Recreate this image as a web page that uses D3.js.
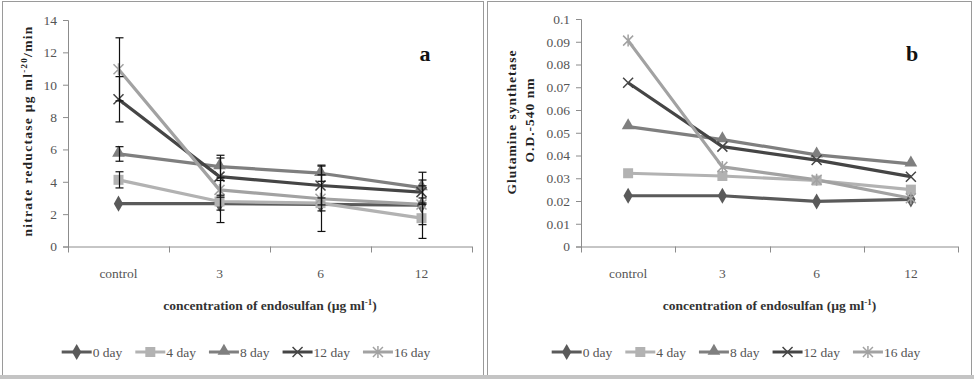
<!DOCTYPE html>
<html>
<head>
<meta charset="utf-8">
<script src="https://cdn.jsdelivr.net/npm/d3@7"></script>
<style>
  html, body { margin: 0; padding: 0; background: #fff; }
  svg { display: block; font-family: "Liberation Serif", "Times New Roman", serif; }
</style>
</head>
<body>
<svg id="chart" width="974" height="379"></svg>
<script>
// categories on the x axis
var categories = ['control', '3', '6', '12'];
var seriesNames = ['0 day', '4 day', '8 day', '12 day', '16 day'];

// panel a: nitrate reductase
var nr0Day  = [2.65, 2.65, 2.6, 2.55];
var nr4Day  = [4.12, 2.78, 2.68, 1.75];
var nr8Day  = [5.72, 4.94, 4.53, 3.64];
var nr12Day = [9.1, 4.32, 3.77, 3.36];
var nr16Day = [10.95, 3.5, 2.95, 2.6];
// +/- error for panel a
var nr0Err  = [0, 0.4, 0.4, 1.2];
var nr4Err  = [0.5, 1.3, 1.75, 1.25];
var nr8Err  = [0.45, 0.7, 0.5, 0.95];
var nr12Err = [1.4, 1.15, 1.2, 0.75];
var nr16Err = [1.95, 0, 0, 0];
var nrTicks = [0, 2, 4, 6, 8, 10, 12, 14];

// panel b: glutamine synthetase
var gs0Day  = [0.0223, 0.0223, 0.0198, 0.0207];
var gs4Day  = [0.0322, 0.031, 0.029, 0.025];
var gs8Day  = [0.0527, 0.047, 0.0403, 0.0363];
var gs12Day = [0.072, 0.0439, 0.038, 0.0307];
var gs16Day = [0.0905, 0.035, 0.0293, 0.0212];
var gsTicks = [0, 0.01, 0.02, 0.03, 0.04, 0.05, 0.06, 0.07, 0.08, 0.09, 0.1];

var colors = ['#5a5a5a', '#b2b2b2', '#7f7f7f', '#454545', '#a2a2a2'];
var markers = ['diamond', 'square', 'triangle', 'x', 'star'];

var svg = d3.select('#chart');

// outer frames
svg.append('rect').attr('x', 2.5).attr('y', 1.5).attr('width', 481).attr('height', 374)
    .attr('fill', 'none').attr('stroke', '#9a9a9a');
svg.append('rect').attr('x', 487.5).attr('y', 1.5).attr('width', 484).attr('height', 374)
    .attr('fill', 'none').attr('stroke', '#9a9a9a');
svg.append('rect').attr('x', 0).attr('y', 375).attr('width', 974).attr('height', 4)
    .attr('fill', '#c4c4c4');

function drawMarker(g, type, color) {
    if (type === 'diamond') {
        g.append('path').attr('d', d3.symbol(d3.symbolDiamond, 75)()).attr('fill', color);
    } else if (type === 'square') {
        g.append('path').attr('d', d3.symbol(d3.symbolSquare, 100)()).attr('fill', color);
    } else if (type === 'triangle') {
        g.append('path').attr('d', d3.symbol(d3.symbolTriangle, 70)()).attr('fill', color)
            .attr('transform', 'translate(0,-1)');
    } else if (type === 'x') {
        g.append('path').attr('d', 'M-5,-5L5,5M-5,5L5,-5')
            .attr('stroke', color).attr('stroke-width', 1.5).attr('fill', 'none');
    } else {
        g.append('path').attr('d', 'M-5,-5L5,5M-5,5L5,-5M0,-6L0,6')
            .attr('stroke', color).attr('stroke-width', 1.5).attr('fill', 'none');
    }
}

function drawPanel(p) {
    var g = svg.append('g');

    var x = d3.scaleBand().domain(categories).range([p.x0, p.x1]);
    var y = d3.scaleLinear().domain([0, p.yMax]).range([p.yBottom, p.yTop]);

    // y axis
    var yAxis = g.append('g')
        .attr('transform', 'translate(' + p.x0 + ',0)')
        .call(d3.axisLeft(y).tickValues(p.ticks).tickSize(5).tickPadding(6).tickFormat(p.fmt));
    yAxis.select('.domain').attr('stroke', '#8c8c8c');
    yAxis.selectAll('.tick line').attr('stroke', '#8c8c8c');
    yAxis.selectAll('.tick text').attr('fill', '#555').style('font-size', '13.5px')
        .style('font-family', '"Liberation Serif", serif');

    // x axis, tick marks between categories
    var xAxis = g.append('g')
        .attr('transform', 'translate(0,' + p.yBottom + ')');
    xAxis.append('line').attr('x1', p.x0).attr('x2', p.x1).attr('y1', 0.5).attr('y2', 0.5)
        .attr('stroke', '#8c8c8c');
    var bounds = categories.map(function (c) { return x(c); }).concat([p.x1]);
    xAxis.selectAll('.bt').data(bounds).enter().append('line')
        .attr('x1', function (d) { return Math.round(d) + 0.5; })
        .attr('x2', function (d) { return Math.round(d) + 0.5; })
        .attr('y1', 0).attr('y2', 6).attr('stroke', '#8c8c8c');
    xAxis.selectAll('.cl').data(categories).enter().append('text')
        .attr('x', function (d) { return x(d) + x.bandwidth() / 2; })
        .attr('y', 31)
        .attr('text-anchor', 'middle').attr('fill', '#555').style('font-size', '13.5px')
        .text(function (d) { return d; });

    // x axis title
    var xt = g.append('text')
        .attr('x', (p.x0 + p.x1) / 2).attr('y', 310)
        .attr('text-anchor', 'middle').attr('fill', '#333')
        .style('font-size', '13.5px').style('font-weight', 'bold');
    xt.append('tspan').text('concentration of endosulfan (\u00b5g ml');
    xt.append('tspan').attr('dy', -5).style('font-size', '9px').text('-1');
    xt.append('tspan').attr('dy', 5).text(')');

    // y axis title
    p.yTitle(g);

    // panel letter
    g.append('text').attr('x', p.letterX).attr('y', 61)
        .attr('text-anchor', 'middle').style('font-size', '22px').style('font-weight', 'bold')
        .attr('fill', '#111').text(p.letter);

    var line = d3.line()
        .x(function (d, i) { return x(categories[i]) + x.bandwidth() / 2; })
        .y(function (d) { return y(d); });

    p.series.forEach(function (vals, s) {
        g.append('path').datum(vals).attr('d', line)
            .attr('fill', 'none').attr('stroke', colors[s]).attr('stroke-width', 3.2)
            .attr('stroke-linejoin', 'round');
    });
    p.series.forEach(function (vals, s) {
        vals.forEach(function (v, i) {
            var m = g.append('g').attr('transform', 'translate(' +
                (x(categories[i]) + x.bandwidth() / 2) + ',' + y(v) + ')');
            drawMarker(m, markers[s], colors[s]);
        });
    });

    // error bars
    if (p.errors) {
        p.series.forEach(function (vals, s) {
            vals.forEach(function (v, i) {
                var e = p.errors[s][i];
                if (!e) return;
                var cx = Math.round(x(categories[i]) + x.bandwidth() / 2) + 0.5;
                var eg = g.append('g').attr('stroke', '#111').attr('stroke-width', 1.2);
                eg.append('line').attr('x1', cx).attr('x2', cx).attr('y1', y(v - e)).attr('y2', y(v + e));
                eg.append('line').attr('x1', cx - 4).attr('x2', cx + 4).attr('y1', y(v - e)).attr('y2', y(v - e));
                eg.append('line').attr('x1', cx - 4).attr('x2', cx + 4).attr('y1', y(v + e)).attr('y2', y(v + e));
            });
        });
    }

    // legend
    var lg = g.append('g').attr('transform', 'translate(0,352)');
    var lx = 0;
    var items = [];
    seriesNames.forEach(function (name, s) {
        var it = lg.append('g');
        it.append('line').attr('x1', 0).attr('x2', 30).attr('y1', 0).attr('y2', 0)
            .attr('stroke', colors[s]).attr('stroke-width', 3);
        var mg = it.append('g').attr('transform', 'translate(15,0)');
        drawMarker(mg, markers[s], colors[s]);
        var t = it.append('text').attr('x', 31).attr('y', 5)
            .attr('fill', '#555').style('font-size', '13.5px').text(name);
        var w = 31 + t.node().getComputedTextLength();
        items.push({ g: it, x: lx });
        lx += w + 13;
    });
    var total = lx - 13;
    var start = p.legendCenter - total / 2;
    items.forEach(function (d) {
        d.g.attr('transform', 'translate(' + (start + d.x) + ',0)');
    });
}

drawPanel({
    x0: 68, x1: 472, yTop: 20, yBottom: 246.5, yMax: 14,
    ticks: nrTicks, fmt: d3.format('d'),
    series: [nr0Day, nr4Day, nr8Day, nr12Day, nr16Day],
    errors: [nr0Err, nr4Err, nr8Err, nr12Err, nr16Err],
    letter: 'a', letterX: 425, legendCenter: 246,
    yTitle: function (g) {
        var t = g.append('text')
            .attr('transform', 'translate(32,131) rotate(-90)')
            .attr('text-anchor', 'middle').attr('fill', '#222')
            .style('font-size', '13.5px').style('font-weight', 'bold').style('letter-spacing', '1.3px');
        t.append('tspan').text('nitrate reductase  \u00b5g  ml');
        t.append('tspan').attr('dy', -5).style('font-size', '9px').text('-20');
        t.append('tspan').attr('dy', 5).text('/min');
    }
});

drawPanel({
    x0: 581, x1: 958, yTop: 19, yBottom: 246.5, yMax: 0.1,
    ticks: gsTicks, fmt: function (d) { return String(+d.toFixed(2)); },
    series: [gs0Day, gs4Day, gs8Day, gs12Day, gs16Day],
    errors: null,
    letter: 'b', letterX: 912, legendCenter: 736,
    yTitle: function (g) {
        g.append('text')
            .attr('transform', 'translate(516,122) rotate(-90)')
            .attr('text-anchor', 'middle').attr('fill', '#222')
            .style('font-size', '13.5px').style('font-weight', 'bold').style('letter-spacing', '1px')
            .text('Glutamine synthetase');
        g.append('text')
            .attr('transform', 'translate(534,120) rotate(-90)')
            .attr('text-anchor', 'middle').attr('fill', '#222')
            .style('font-size', '13.5px').style('font-weight', 'bold').style('letter-spacing', '1px')
            .text('O.D.-540 nm');
    }
});
</script>
</body>
</html>
